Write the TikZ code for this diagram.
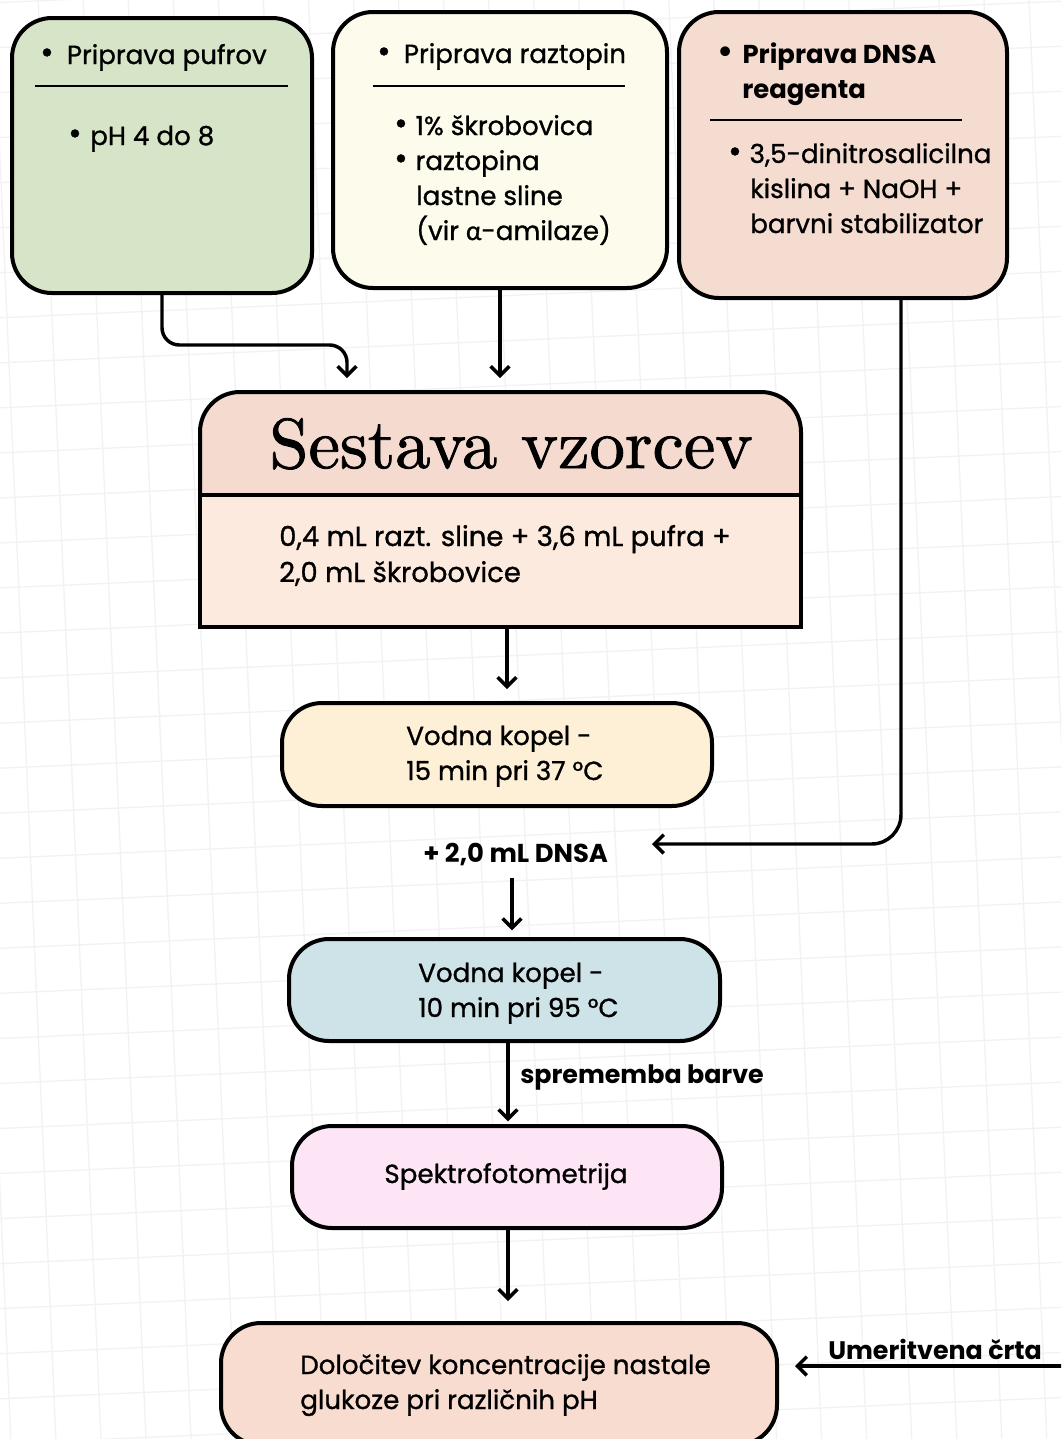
\documentclass[tikz,border=0pt]{standalone}
\usepackage{fontspec}
\usetikzlibrary{arrows.meta}
\newfontfamily\pop{Poppins}
\newfontfamily\popm[FakeBold=1.0]{Poppins}
\newfontfamily\grk[FakeBold=1.2]{Lato}
\newfontfamily\ttl[FakeBold=1.2, Extension=.otf]{lmroman10-regular}
\definecolor{cg}{HTML}{D6E5C8}
\definecolor{cy}{HTML}{FDFBEB}
\definecolor{cp}{HTML}{F5DCD1}
\definecolor{sh}{HTML}{F5DBCF}
\definecolor{sb}{HTML}{FDEADF}
\definecolor{cv1}{HTML}{FEF0D6}
\definecolor{cv2}{HTML}{CDE3E7}
\definecolor{csp}{HTML}{FDE5F5}
\definecolor{cfin}{HTML}{F7DCCF}
\definecolor{gridc}{HTML}{F2F2F2}
\tikzset{
  box/.style={draw=black, line width=3pt, rounded corners=30pt, inner sep=0pt},
  arr/.style={line width=2.6pt, -{Straight Barb[length=7pt,width=14pt]}},
  txt/.style={anchor=base west, inner sep=0pt, font=\popm\fontsize{19.6}{23}\selectfont},
  btxt/.style={anchor=base west, inner sep=0pt, font=\pop\bfseries\fontsize{19.4}{23}\selectfont},
  sep/.style={line width=2pt},
}
\newcommand{\bul}[1]{\makebox[#1][l]{\raisebox{0.5pt}{\scalebox{1.25}{•}}}}
\begin{document}
\begin{tikzpicture}[x=0.75pt, y=-0.75pt]
\useasboundingbox (0,0) rectangle (1061,1439);
\clip (0,0) rectangle (1061,1439);
\fill[white] (0,0) rectangle (1061,1439);
% background grid
\begin{scope}[rotate around={2.5:(530,720)}]
  \foreach \i in {-200,-155,...,1300} \draw[gridc, line width=1pt] (\i,-200) -- (\i,1650);
  \foreach \j in {-200,-155,...,1650} \draw[gridc, line width=1pt] (-200,\j) -- (1300,\j);
\end{scope}

% top boxes
\node[box, fill=cg, minimum width=225pt, minimum height=206.25pt] (b1) at (162,155.5) {};
\node[box, fill=cy, minimum width=250.5pt, minimum height=207pt] (b2) at (500,150) {};
\node[box, fill=cp, minimum width=246pt, minimum height=214.5pt] (b3) at (843,155) {};
\draw[sep] (35,86) -- (288,86);
\draw[sep] (373,86) -- (625,86);
\draw[sep] (710,120) -- (962,120);

\node[txt] (t1) at (40,64) {\bul{20pt}Priprava pufrov};
\node[txt] (t2) at (68,145) {\bul{16.5pt}pH 4 do 8};

\node[txt] (t3) at (377,63) {\bul{20pt}Priprava raztopin};
\node[txt] (t4) at (394,135) {\bul{16pt}1\% škrobovica};
\node[txt] (t5) at (394,170) {\bul{16pt}raztopina};
\node[txt] (t6) at (416,205) {lastne sline};
\node[txt] (t7) at (416,240) {(vir {\grk α}-amilaze)};

\node[btxt] (t8) at (717,63) {\bul{19pt}Priprava DNSA};
\node[btxt] (t9) at (742,98) {reagenta};
\node[txt] (t10) at (728,163) {\bul{16pt}3,5-dinitrosalicilna};
\node[txt] (t11) at (750,198) {kislina + NaOH +};
\node[txt] (t12) at (750,233) {barvni stabilizator};

% Sestava vzorcev
\node[box, fill=sh, minimum width=450.75pt, minimum height=126pt] (seshead) at (500.5,476) {};
\node[draw=black, line width=3pt, fill=sb, minimum width=450.75pt, minimum height=99pt, inner sep=0pt] (sesbody) at (500.5,561) {};
\node[anchor=base, inner sep=0pt, font=\ttl\fontsize{53}{60}\selectfont] (title) at (511,468) {Sestava vzorcev};
\node[txt, font=\popm\fontsize{20.6}{24}\selectfont] (t13) at (279,546) {0,4 mL razt. sline + 3,6 mL pufra +};
\node[txt, font=\popm\fontsize{20.6}{24}\selectfont] (t14) at (279,582) {2,0 mL škrobovice};

% process boxes
\node[box, fill=cv1, minimum width=322.5pt, minimum height=77.25pt] (v1) at (497,754.5) {};
\node[txt] (t15) at (406,745) {Vodna kopel -};
\node[txt] (t16) at (406,780) {15 min pri 37 °C};

\node[btxt] (dnsa) at (423,862) {+ 2,0 mL DNSA};

\node[box, fill=cv2, minimum width=323.25pt, minimum height=76.5pt] (v2) at (504.5,990) {};
\node[txt] (t17) at (418,982) {Vodna kopel -};
\node[txt] (t18) at (418,1017) {10 min pri 95 °C};

\node[btxt, font=\pop\bfseries\fontsize{19}{23}\selectfont] (barva) at (520,1083) {sprememba barve};

\node[box, fill=csp, minimum width=322.5pt, minimum height=76.5pt] (sp) at (507,1177) {};
\node[txt, anchor=base] (t19) at (506,1183) {Spektrofotometrija};

\node[box, fill=cfin, minimum width=417pt, minimum height=91.5pt] (fin) at (499,1384) {};
\node[txt] (t20) at (300,1374) {Določitev koncentracije nastale};
\node[txt] (t21) at (300,1409) {glukoze pri različnih pH};

\node[btxt, font=\pop\bfseries\fontsize{19}{23}\selectfont] (umer) at (828,1359) {Umeritvena črta};

% connectors
\coordinate (c1) at (347,0);
\coordinate (a3) at (507,0);
\coordinate (a4) at (901,0);
\coordinate (a4e) at (652,844);
\coordinate (a5s) at (512,878);
\coordinate (a6) at (508,0);
\coordinate (u) at (1070,1366);

\draw[arr, rounded corners=13pt, shorten >=9pt] (b1.south) -- ++(0,50) -| (seshead.north -| c1);
\draw[arr, shorten >=9pt] (b2.south) -- (b2.south |- seshead.north);
\draw[arr, shorten >=9pt] (sesbody.south -| a3) -- (v1.north -| a3);
\draw[arr, rounded corners=22pt] (b3.south -| a4) |- (a4e);
\draw[arr, shorten >=5pt] (a5s) -- (v2.north -| a5s);
\draw[arr, shorten >=2pt] (v2.south -| a6) -- (sp.north -| a6);
\draw[arr, shorten >=15pt] (sp.south -| a6) -- (fin.north -| a6);
\draw[arr, shorten >=12pt] (u) -- (fin.east |- u);
\end{tikzpicture}
\end{document}
